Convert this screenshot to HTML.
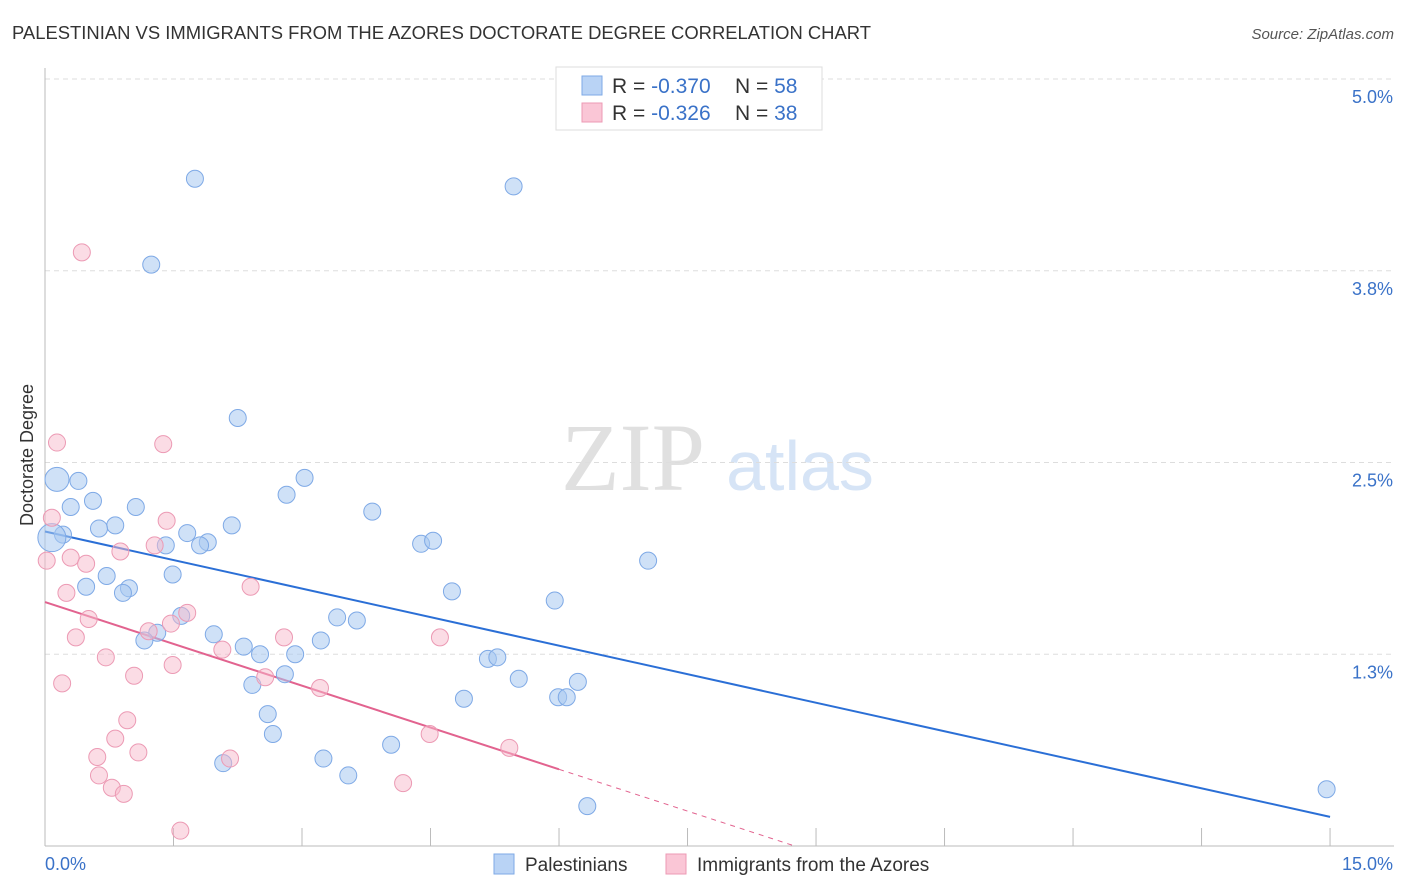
<!DOCTYPE html>
<html><head><meta charset="utf-8">
<style>
body{margin:0;background:#fff;font-family:"Liberation Sans",sans-serif;}
svg{display:block}
</style></head>
<body>
<svg id="chart" width="1406" height="892" xmlns="http://www.w3.org/2000/svg">
<text x="12" y="39" font-size="18" fill="#333" textLength="859" lengthAdjust="spacingAndGlyphs">PALESTINIAN VS IMMIGRANTS FROM THE AZORES DOCTORATE DEGREE CORRELATION CHART</text>
<text x="1394" y="39" font-size="15" fill="#555" font-style="italic" text-anchor="end">Source: ZipAtlas.com</text>
<g>
<text x="633" y="490" font-size="96" fill="#e0e0e0" font-family="Liberation Serif,serif" text-anchor="middle">ZIP</text>
<text x="800" y="490" font-size="70" fill="#d6e4f6" text-anchor="middle">atlas</text>
</g>
<g id="grid"></g>
<g id="axes"></g>
<g id="lines"></g>
<g id="points"></g>
<text transform="translate(33,455) rotate(-90)" font-size="18" fill="#333" text-anchor="middle">Doctorate Degree</text>
<g>
<rect x="556" y="67" width="266" height="63" fill="#fff" stroke="#ddd"/>
<rect x="582" y="76" width="20" height="19" fill="#b9d3f5" stroke="#7ea9e6"/>
<rect x="582" y="103" width="20" height="19" fill="#fac6d6" stroke="#ec9ab4"/>
<text x="612" y="93" font-size="21" fill="#333">R = <tspan fill="#3a72c8">-0.370</tspan></text>
<text x="735" y="93" font-size="21" fill="#333">N = <tspan fill="#3a72c8">58</tspan></text>
<text x="612" y="120" font-size="21" fill="#333">R = <tspan fill="#3a72c8">-0.326</tspan></text>
<text x="735" y="120" font-size="21" fill="#333">N = <tspan fill="#3a72c8">38</tspan></text>
</g>
<g>
<rect x="494" y="854" width="20" height="20" fill="#b9d3f5" stroke="#7ea9e6"/>
<text x="525" y="871" font-size="19" fill="#333">Palestinians</text>
<rect x="666" y="854" width="20" height="20" fill="#fac6d6" stroke="#ec9ab4"/>
<text x="697" y="871" font-size="19" fill="#333">Immigrants from the Azores</text>
</g>
</svg>
<script>
const yTicks=[1.25,2.5,3.75,5.0];
const yTickLabels=["1.3%","2.5%","3.8%","5.0%"];
const xTickLabels=["0.0%","15.0%"];
const blueX=[1.75,5.47,1.24,2.25,0.14,0.39,3.03,2.82,0.56,0.30,1.06,3.82,2.18,0.82,0.63,1.66,0.21,0.08,1.90,1.81,1.41,4.39,4.53,7.04,1.49,0.72,0.48,0.98,0.91,4.75,5.95,1.59,3.41,3.64,1.31,1.97,1.16,3.22,2.32,2.51,2.92,5.17,5.28,2.80,5.53,6.22,2.42,4.89,5.99,6.09,2.60,2.66,4.04,2.08,3.25,3.54,6.33,14.96];
const blueY=[4.35,4.30,3.79,2.79,2.39,2.38,2.40,2.29,2.25,2.21,2.21,2.18,2.09,2.09,2.07,2.04,2.03,2.01,1.98,1.96,1.96,1.97,1.99,1.86,1.77,1.76,1.69,1.68,1.65,1.66,1.60,1.50,1.49,1.47,1.39,1.38,1.34,1.34,1.30,1.25,1.25,1.22,1.23,1.12,1.09,1.07,1.05,0.96,0.97,0.97,0.86,0.73,0.66,0.54,0.57,0.46,0.26,0.37];
const blueBig=[4,17];
const pinkX=[0.43,0.14,1.38,0.08,1.42,0.02,1.28,0.88,0.30,0.48,0.25,2.40,0.51,1.66,1.47,1.21,0.36,2.07,2.79,4.61,0.71,1.49,2.57,1.04,3.21,0.20,0.96,4.49,0.82,5.42,0.61,1.09,2.16,0.63,0.78,0.92,4.18,1.58];
const pinkY=[3.87,2.63,2.62,2.14,2.12,1.86,1.96,1.92,1.88,1.84,1.65,1.69,1.48,1.52,1.45,1.40,1.36,1.28,1.36,1.36,1.23,1.18,1.10,1.11,1.03,1.06,0.82,0.73,0.70,0.64,0.58,0.61,0.57,0.46,0.38,0.34,0.41,0.10];
const blueTrend=[2.05,0.19];
const pinkTrend=[1.59,0.50];
const pinkSolidEnd=6;

const NS="http://www.w3.org/2000/svg";
const X=v=>45+v*85.67, Y=v=>846-v*153.4;
function mk(tag,attrs,parent){const e=document.createElementNS(NS,tag);for(const k in attrs)e.setAttribute(k,attrs[k]);document.getElementById(parent).appendChild(e);return e;}
yTicks.forEach((t,i)=>{
  let l=mk('line',{x1:45,x2:1394,y1:Y(t),y2:Y(t),stroke:'#ddd','stroke-dasharray':'5,4'},'grid');
  
  
  let tx=mk('text',{x:1393,y:Y(t)+24,'font-size':18,fill:'#3a72c8','text-anchor':'end'},'grid');
  tx.textContent=yTickLabels[i];
  
  
});
mk('line',{x1:45,x2:45,y1:68,y2:846,stroke:'#bbb'},'axes');
mk('line',{x1:45,x2:1394,y1:846,y2:846,stroke:'#bbb'},'axes');
for(let i=0;i<=10;i++){let l=mk('line',{x1:X(i*1.5),x2:X(i*1.5),y1:828,y2:846,stroke:'#bbb'},'axes');
  
  }
let a=mk('text',{x:45,y:870,'font-size':18,fill:'#3a72c8'},'axes');a.textContent=xTickLabels[0];


let b=mk('text',{x:1393,y:870,'font-size':18,fill:'#3a72c8','text-anchor':'end'},'axes');b.textContent=xTickLabels[1];



blueX.forEach((x,i)=>{const big=blueBig.indexOf(i)>=0;
  let c=mk('circle',{cx:X(x),cy:Y(blueY[i]),r:big?(i==17?14:12):8.5,fill:'rgba(168,200,240,0.55)',stroke:'#7ea9e6','stroke-width':1},'points');
  
  });
pinkX.forEach((x,i)=>{
  let c=mk('circle',{cx:X(x),cy:Y(pinkY[i]),r:8.5,fill:'rgba(247,185,204,0.5)',stroke:'#ec9ab4','stroke-width':1},'points');
  
  });

let bl=mk('line',{x1:X(0),y1:Y(blueTrend[0]),x2:X(15),y2:Y(blueTrend[1]),stroke:'#2b6fd6','stroke-width':2},'lines');


const ps=(pinkTrend[1]-pinkTrend[0])/pinkSolidEnd;
let pl=mk('line',{x1:X(0),y1:Y(pinkTrend[0]),x2:X(pinkSolidEnd),y2:Y(pinkTrend[1]),stroke:'#e2638f','stroke-width':2},'lines');


const xz=-pinkTrend[0]/ps;
let pd=mk('line',{x1:X(pinkSolidEnd),y1:Y(pinkTrend[1]),x2:X(xz),y2:Y(0),stroke:'#e2638f','stroke-width':1,'stroke-dasharray':'5,5'},'lines');


</script>
</body></html>
